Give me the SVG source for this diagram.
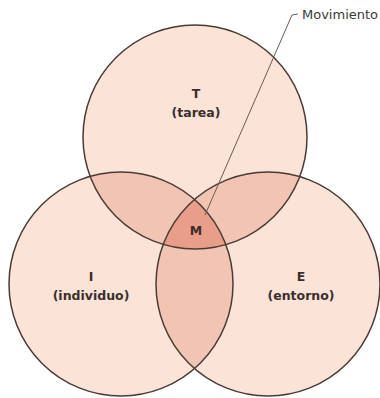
<svg xmlns="http://www.w3.org/2000/svg" width="380" height="398" viewBox="0 0 380 398">
<style>
.base{fill:#fbe3d7;stroke:none}
.two{fill:#f2c4b3;stroke:none}
.three{fill:#e99e8a;stroke:none}
.edge{fill:none;stroke:#4a3b36;stroke-width:1.5}
.lbl{font-family:"DejaVu Sans",sans-serif;font-weight:bold;font-size:12.5px;fill:#3a2f2c;text-anchor:middle}
.lead{fill:none;stroke:#6b5a55;stroke-width:1}
.note{font-family:"DejaVu Sans",sans-serif;font-size:13px;fill:#3a3a3a}
</style>
<defs>
<clipPath id="cT"><circle cx="195" cy="137" r="112"/></clipPath>
<clipPath id="cI"><circle cx="121" cy="284" r="112"/></clipPath>
<clipPath id="cE"><circle cx="268" cy="284" r="112"/></clipPath>
</defs>
<rect width="380" height="398" fill="#ffffff"/>
<g id="fills">
<circle class="base" cx="195" cy="137" r="112"/>
<circle class="base" cx="121" cy="284" r="112"/>
<circle class="base" cx="268" cy="284" r="112"/>
<g clip-path="url(#cT)"><circle class="two" cx="121" cy="284" r="112"/><circle class="two" cx="268" cy="284" r="112"/></g>
<g clip-path="url(#cI)"><circle class="two" cx="268" cy="284" r="112"/></g>
</g>
<g id="M"><g clip-path="url(#cT)"><g clip-path="url(#cI)"><circle class="three" cx="268" cy="284" r="112"/></g></g>
<text class="lbl" x="196" y="235" font-size="11">M</text></g>
<g id="T"><circle class="edge" cx="195" cy="137" r="112"/>
<text class="lbl" x="196" y="98">T</text><text class="lbl" x="196" y="117">(tarea)</text></g>
<g id="I"><circle class="edge" cx="121" cy="284" r="112"/>
<text class="lbl" x="91" y="281">I</text><text class="lbl" x="91" y="300">(individuo)</text></g>
<g id="E"><circle class="edge" cx="268" cy="284" r="112"/>
<text class="lbl" x="301" y="281">E</text><text class="lbl" x="301" y="300">(entorno)</text></g>
<g id="connectors">
<polyline class="lead" points="205,215 292,15 298,14"/>
</g>
<text class="note" x="302" y="19">Movimiento</text>
</svg>
